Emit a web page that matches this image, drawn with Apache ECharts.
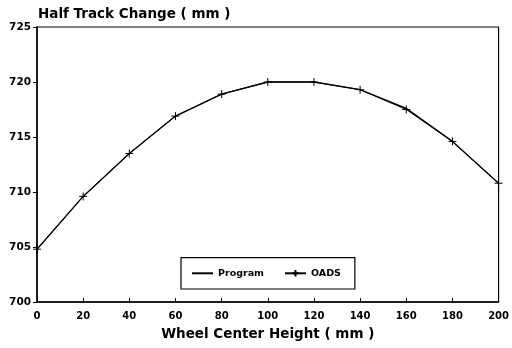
<!DOCTYPE html>
<html>
<head>
<meta charset="utf-8">
<script src="https://cdn.jsdelivr.net/npm/echarts@6/dist/echarts.min.js"></script>
<style>html,body{margin:0;padding:0;background:#fff}#c{width:512px;height:348px}</style>
</head>
<body>
<div id="c"></div>
<script>
var heights = [0, 20, 40, 60, 80, 100, 120, 140, 160, 180, 200];
var programValues = [704.8, 709.6, 713.5, 716.9, 718.9, 720.0, 720.0, 719.3, 717.6, 714.6, 710.8];
var oadsValues = [704.8, 709.6, 713.5, 716.9, 718.9, 720.0, 720.0, 719.3, 717.5, 714.6, 710.8];
var xTicks = [0, 20, 40, 60, 80, 100, 120, 140, 160, 180, 200];
var yTicks = [700, 705, 710, 715, 720, 725];

function pairs(xs, ys) { return xs.map(function (x, i) { return [x, ys[i]]; }); }

var font = 'DejaVu Sans';
var chart = echarts.init(document.getElementById('c'));
chart.setOption({
  animation: false,
  backgroundColor: '#fff',
  title: {
    text: 'Half Track Change ( mm )',
    left: 33, top: 2,
    textStyle: { fontFamily: font, fontSize: 13.5, fontWeight: 'bold', color: '#000' }
  },
  legend: {
    bottom: 59, left: 181,
    itemGap: 20, itemWidth: 21, itemHeight: 8,
    padding: [10, 14, 10, 10],
    borderColor: '#000', borderWidth: 1.2,
    textStyle: { fontFamily: font, fontSize: 9.5, fontWeight: 'bold', color: '#000' },
    data: [{ name: 'Program', itemStyle: { opacity: 0 } }, 'OADS']
  },
  grid: { left: 37, right: 13, top: 27, bottom: 46, show: true, borderColor: '#000', borderWidth: 1.2 },
  xAxis: {
    type: 'value', min: 0, max: 200, interval: 20,
    name: 'Wheel Center Height ( mm )', nameLocation: 'middle', nameGap: 25,
    nameTextStyle: { fontFamily: font, fontSize: 13.5, fontWeight: 'bold', color: '#000' },
    axisLine: { lineStyle: { color: '#000', width: 1.5 } },
    axisTick: { inside: true, length: 4, lineStyle: { color: '#000' } },
    axisLabel: { fontFamily: font, fontSize: 10, fontWeight: 'bold', color: '#000', margin: 9,
      formatter: function (v) { return xTicks.indexOf(v) >= 0 ? String(v) : ''; } },
    splitLine: { show: false }
  },
  yAxis: {
    type: 'value', min: 700, max: 725, interval: 5,
    axisLine: { show: true, lineStyle: { color: '#000', width: 1.5 } },
    axisTick: { show: true, length: 4, lineStyle: { color: '#000' } },
    axisLabel: { fontFamily: font, fontSize: 10.5, fontWeight: 'bold', color: '#000', margin: 6,
      formatter: function (v) { return yTicks.indexOf(v) >= 0 ? String(v) : ''; } },
    splitLine: { show: false }
  },
  series: [
    {
      name: 'Program', type: 'line',
      data: pairs(heights, programValues),
      symbol: 'none',
      lineStyle: { color: '#000', width: 1.3 },
      itemStyle: { color: '#000' }
    },
    {
      name: 'OADS', type: 'line',
      data: pairs(heights, oadsValues),
      symbol: 'path://M5,0L5,10M0,5L10,5', symbolSize: 8,
      lineStyle: { color: '#000', width: 1 },
      itemStyle: { color: 'none', borderColor: '#000', borderWidth: 1 }
    }
  ]
});
</script>
</body>
</html>
